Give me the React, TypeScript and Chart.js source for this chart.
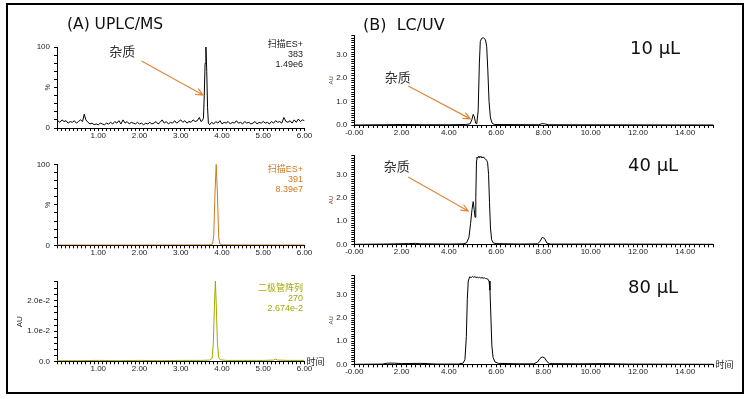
import React, { useEffect, useRef } from 'react';
import { Chart, registerables } from 'chart.js';

Chart.register(...registerables);

// ---------------- data ----------------
// (A) UPLC/MS, scan ES+ 383 (time min, intensity %)
const A1_MS383: [number, number][] = [
  [0.02, 9], [0.07, 7], [0.12, 10], [0.17, 8], [0.22, 9], [0.27, 6], [0.32, 8], [0.37, 7], [0.42, 9], [0.47, 6],
  [0.52, 8], [0.57, 10], [0.62, 8], [0.66, 17], [0.70, 10], [0.75, 7], [0.80, 5], [0.85, 6], [0.90, 4], [0.95, 5],
  [1.00, 4], [1.05, 6], [1.10, 5], [1.15, 4], [1.20, 6], [1.25, 5], [1.30, 7], [1.35, 5], [1.40, 8], [1.45, 6],
  [1.50, 9], [1.55, 5], [1.60, 10], [1.65, 6], [1.70, 8], [1.75, 5], [1.80, 7], [1.85, 6], [1.90, 5], [1.95, 7],
  [2.00, 5], [2.05, 6], [2.10, 4], [2.15, 6], [2.20, 5], [2.25, 7], [2.30, 5], [2.35, 6], [2.40, 8], [2.45, 5],
  [2.50, 7], [2.55, 10], [2.60, 6], [2.65, 8], [2.70, 5], [2.75, 7], [2.80, 6], [2.85, 9], [2.90, 6], [2.95, 8],
  [3.00, 10], [3.05, 7], [3.10, 9], [3.15, 6], [3.20, 8], [3.25, 7], [3.30, 10], [3.35, 8], [3.40, 9], [3.45, 13],
  [3.49, 8], [3.52, 9], [3.55, 12], [3.57, 40], [3.59, 80], [3.61, 100], [3.63, 70], [3.65, 25], [3.67, 6], [3.70, 4],
  [3.75, 7], [3.80, 5], [3.85, 8], [3.90, 6], [3.95, 9], [4.00, 5], [4.05, 7], [4.10, 6], [4.15, 8], [4.20, 5],
  [4.25, 7], [4.30, 6], [4.35, 9], [4.40, 6], [4.45, 7], [4.50, 5], [4.55, 8], [4.60, 6], [4.65, 7], [4.70, 5],
  [4.75, 6], [4.80, 8], [4.85, 5], [4.90, 7], [4.95, 6], [5.00, 8], [5.05, 6], [5.10, 7], [5.15, 5], [5.20, 8],
  [5.25, 6], [5.30, 9], [5.35, 7], [5.40, 8], [5.45, 6], [5.50, 13], [5.55, 8], [5.60, 7], [5.65, 9], [5.70, 6],
  [5.75, 10], [5.80, 7], [5.85, 11], [5.90, 8], [5.95, 10], [6.00, 9],
];
// scan ES+ 391 (%)
const A2_MS391: [number, number][] = [
  [0, 0.3], [1, 0.3], [2, 0.3], [3, 0.4], [3.5, 0.5], [3.7, 0.6], [3.77, 1.5], [3.8, 12], [3.83, 65],
  [3.86, 100], [3.89, 62], [3.92, 10], [3.95, 1.5], [4.0, 0.6], [4.5, 0.4], [5, 0.4], [6, 0.3],
];
// diode array 270 nm (AU)
const A3_PDA270: [number, number][] = [
  [0, 0.0002], [0.5, 0.0002], [1.0, 0.0003], [1.5, 0.0002], [2.0, 0.0003], [2.5, 0.0002], [3.0, 0.0003],
  [3.5, 0.0003], [3.7, 0.0004], [3.76, 0.001], [3.79, 0.006], [3.82, 0.02], [3.84, 0.0266], [3.86, 0.019],
  [3.89, 0.006], [3.92, 0.0012], [3.96, 0.0005], [4.1, 0.0003], [4.5, 0.0003], [5.0, 0.0003], [5.25, 0.0004],
  [5.3, 0.0007], [5.35, 0.0004], [5.6, 0.0003], [6.0, 0.0003],
];
// (B) LC/UV, 10 µL (AU)
const B1_10uL: [number, number][] = [
  [0, 0], [1.2, 0.01], [2.0, 0.02], [3.0, 0.01], [4.0, 0.01], [4.7, 0.02], [4.9, 0.05], [4.98, 0.25],
  [5.03, 0.45], [5.08, 0.35], [5.13, 0.08], [5.18, 0.05], [5.24, 0.6], [5.29, 2.6], [5.33, 3.55], [5.38, 3.68],
  [5.46, 3.72], [5.55, 3.62], [5.6, 3.35], [5.65, 2.3], [5.7, 1.0], [5.76, 0.3], [5.83, 0.08], [5.92, 0.02],
  [7.8, 0.01], [7.95, 0.06], [8.05, 0.05], [8.2, 0.01], [15.2, 0],
];
// 40 µL (AU)
const B2_40uL: [number, number][] = [
  [0, 0], [1.3, 0.01], [2.3, 0.03], [2.6, 0.04], [2.8, 0.02], [4.0, 0.01], [4.6, 0.02], [4.75, 0.06],
  [4.85, 0.3], [4.92, 0.9], [4.98, 1.5], [5.03, 1.83], [5.07, 1.5], [5.11, 1.16], [5.14, 2.0], [5.17, 3.6],
  [5.19, 3.74], [5.22, 3.7], [5.26, 3.77], [5.29, 3.71], [5.32, 3.78], [5.36, 3.72], [5.39, 3.76], [5.43, 3.7],
  [5.47, 3.75], [5.51, 3.68], [5.55, 3.66], [5.6, 3.6], [5.64, 3.5], [5.68, 3.0], [5.72, 1.8], [5.76, 0.7],
  [5.81, 0.2], [5.88, 0.06], [6.0, 0.03], [7.0, 0.01], [7.75, 0.02], [7.85, 0.12], [7.95, 0.3], [8.05, 0.25],
  [8.15, 0.05], [8.3, 0.01], [10.5, 0.01], [15.2, 0],
];
// 80 µL (AU)
const B3_80uL: [number, number][] = [
  [0, 0], [1.2, 0.01], [1.4, 0.05], [1.7, 0.05], [2.0, 0.03], [2.8, 0.04], [3.5, 0.01], [4.4, 0.01],
  [4.6, 0.05], [4.68, 0.2], [4.74, 1.2], [4.78, 2.8], [4.82, 3.6], [4.88, 3.78], [4.95, 3.75], [5.0, 3.8],
  [5.05, 3.76], [5.1, 3.79], [5.15, 3.75], [5.2, 3.77], [5.25, 3.74], [5.3, 3.76], [5.35, 3.73], [5.4, 3.75],
  [5.45, 3.72], [5.5, 3.74], [5.55, 3.71], [5.6, 3.7], [5.65, 3.68], [5.7, 3.6], [5.74, 3.2], [5.78, 2.0],
  [5.82, 0.8], [5.87, 0.3], [5.95, 0.1], [6.1, 0.04], [6.5, 0.03], [7.0, 0.02], [7.6, 0.02], [7.75, 0.1],
  [7.85, 0.25], [7.95, 0.32], [8.05, 0.28], [8.15, 0.12], [8.25, 0.03], [9.5, 0.02], [10.5, 0.03],
  [11.5, 0.01], [15.2, 0],
];

// tick labels
const LEFT_X_MAJOR = [1, 2, 3, 4, 5, 6];
const LEFT_X_LABELS = ['1.00', '2.00', '3.00', '4.00', '5.00', '6.00'];
const RIGHT_X_MAJOR = [0, 2, 4, 6, 8, 10, 12, 14];
const RIGHT_X_LABELS = ['-0.00', '2.00', '4.00', '6.00', '8.00', '10.00', '12.00', '14.00'];
const PCT_MAJOR = [0, 100];
const PCT_LABELS = ['0', '100'];
const PDA_MAJOR = [0, 0.01, 0.02];
const PDA_LABELS = ['0.0', '1.0e-2', '2.0e-2'];
const AU_MAJOR = [0, 1, 2, 3];
const AU_LABELS = ['0.0', '1.0', '2.0', '3.0'];

// trace info texts
const NOTE_A1 = ['扫描ES+', '383', '1.49e6'];
const NOTE_A2 = ['扫描ES+', '391', '8.39e7'];
const NOTE_A3 = ['二极管阵列', '270', '2.674e-2'];
const IMPURITY = '杂质';
const TIME_LABEL = '时间';

// ---------------- drawing helpers ----------------
type Ann =
  | { kind: 'text'; x: number; y: number; text: string; font: string; color: string }
  | { kind: 'arrow'; x1: number; y1: number; x2: number; y2: number; color: string }
  | { kind: 'ytitle'; y: number; dx: number; text: string; font: string; color: string }
  | { kind: 'xend'; dx: number; text: string; font: string; color: string };

type PanelCfg = {
  left: number; top: number; w: number; h: number;
  plot: { l: number; t: number; r: number; b: number };
  data: [number, number][];
  color: string;
  xMin: number; xMax: number; xStep: number; xMajor: number[]; xLabels: string[];
  yMin: number; yMax: number; yStep: number; yMajor: number[]; yLabels: string[];
  anns: Ann[];
};

const TICK_FONT = { family: '"Liberation Sans", Arial, sans-serif', size: 8 };
const CJK = '"Noto Sans CJK SC", "Noto Sans", sans-serif';
const ARROW = '#E0883A';

const labelFor = (majors: number[], labels: string[]) => (v: number | string) => {
  const n = Number(v);
  const i = majors.findIndex((m) => Math.abs(m - n) < 1e-7);
  return i >= 0 ? labels[i] : '';
};

function drawAnns(chart: any, anns: Ann[]) {
  const ctx: CanvasRenderingContext2D = chart.ctx;
  const xs = chart.scales.x;
  const ys = chart.scales.y;
  const ca = chart.chartArea;
  ctx.save();
  for (const a of anns) {
    if (a.kind === 'text') {
      ctx.font = a.font;
      ctx.fillStyle = a.color;
      ctx.textAlign = 'center';
      ctx.textBaseline = 'middle';
      ctx.fillText(a.text, xs.getPixelForValue(a.x), ys.getPixelForValue(a.y));
    } else if (a.kind === 'arrow') {
      const x1 = xs.getPixelForValue(a.x1), y1 = ys.getPixelForValue(a.y1);
      const x2 = xs.getPixelForValue(a.x2), y2 = ys.getPixelForValue(a.y2);
      ctx.strokeStyle = a.color;
      ctx.lineWidth = 1.2;
      ctx.beginPath();
      ctx.moveTo(x1, y1);
      ctx.lineTo(x2, y2);
      const ang = Math.atan2(y2 - y1, x2 - x1);
      const L = 8, spread = 0.42;
      ctx.moveTo(x2 - L * Math.cos(ang - spread), y2 - L * Math.sin(ang - spread));
      ctx.lineTo(x2, y2);
      ctx.lineTo(x2 - L * Math.cos(ang + spread), y2 - L * Math.sin(ang + spread));
      ctx.stroke();
    } else if (a.kind === 'ytitle') {
      ctx.font = a.font;
      ctx.fillStyle = a.color;
      ctx.textAlign = 'center';
      ctx.textBaseline = 'middle';
      ctx.translate(ca.left - a.dx, ys.getPixelForValue(a.y));
      ctx.rotate(-Math.PI / 2);
      ctx.fillText(a.text, 0, 0);
      ctx.setTransform(1, 0, 0, 1, 0, 0);
    } else if (a.kind === 'xend') {
      ctx.font = a.font;
      ctx.fillStyle = a.color;
      ctx.textAlign = 'left';
      ctx.textBaseline = 'middle';
      ctx.fillText(a.text, ca.right + a.dx, ca.bottom);
    }
  }
  ctx.restore();
}

function Panel({ p }: { p: PanelCfg }) {
  const ref = useRef<HTMLCanvasElement>(null);
  useEffect(() => {
    const canvas = ref.current!;
    const plugin = {
      id: 'annot',
      afterDatasetsDraw(chart: any) {
        drawAnns(chart, p.anns);
      },
    };
    const chart = new Chart(canvas, {
      type: 'line',
      data: {
        datasets: [
          {
            data: p.data.map(([x, y]) => ({ x, y })),
            borderColor: p.color,
            borderWidth: 1,
            pointRadius: 0,
            tension: 0,
            fill: false,
          },
        ],
      },
      options: {
        responsive: false,
        animation: false,
        events: [],
        layout: {
          padding: { left: 0, top: p.plot.t - p.top, right: p.left + p.w - p.plot.r, bottom: 0 },
        },
        plugins: { legend: { display: false }, tooltip: { enabled: false } },
        scales: {
          x: {
            type: 'linear',
            min: p.xMin,
            max: p.xMax,
            afterFit: (s: any) => { s.height = p.top + p.h - p.plot.b; },
            ticks: {
              stepSize: p.xStep,
              autoSkip: false,
              maxRotation: 0,
              minRotation: 0,
              includeBounds: false,
              padding: 0,
              font: TICK_FONT,
              color: '#1a1a24',
              callback: labelFor(p.xMajor, p.xLabels),
            },
            grid: { drawOnChartArea: false, drawTicks: true, tickLength: 3, tickColor: '#000', color: '#000' },
            border: { display: true, color: '#000', width: 1 },
          },
          y: {
            type: 'linear',
            min: p.yMin,
            max: p.yMax,
            afterFit: (s: any) => { s.width = p.plot.l - p.left; },
            ticks: {
              stepSize: p.yStep,
              autoSkip: false,
              padding: 4,
              font: TICK_FONT,
              color: '#1a1a24',
              callback: labelFor(p.yMajor, p.yLabels),
            },
            grid: { drawOnChartArea: false, drawTicks: true, tickLength: 3, tickColor: '#000', color: '#000' },
            border: { display: true, color: '#000', width: 1 },
          },
        },
      },
      plugins: [plugin],
    } as any);
    return () => chart.destroy();
  }, [p]);
  return (
    <canvas
      ref={ref}
      width={p.w}
      height={p.h}
      style={{ position: 'absolute', left: p.left, top: p.top, width: p.w, height: p.h }}
    />
  );
}

// ---------------- layout ----------------
const AL = 10, AW = 318, BL = 328, BW = 414;
const ROWS = [
  { top: 6, h: 136 },
  { top: 142, h: 120 },
  { top: 262, h: 123 },
];
const LEFT_R = 304.5;
const RIGHT_L = 354.3, RIGHT_R = 713.6;

const impText = (x: number, y: number): Ann => ({ kind: 'text', x, y, text: IMPURITY, font: `13px ${CJK}`, color: '#333' });
const arrow = (x1: number, y1: number, x2: number, y2: number): Ann => ({ kind: 'arrow', x1, y1, x2, y2, color: ARROW });
const auTitle: Ann = { kind: 'ytitle', y: 1.9, dx: 22.6, text: 'AU', font: `6px ${TICK_FONT.family}`, color: '#5a2a1a' };
const timeEnd: Ann = { kind: 'xend', dx: 2, text: TIME_LABEL, font: `9px ${CJK}`, color: '#222' };

const leftBase = { left: AL, w: AW, xMin: 0, xMax: 6, xStep: 0.1, xMajor: LEFT_X_MAJOR, xLabels: LEFT_X_LABELS };
const rightBase = {
  left: BL, w: BW, xMin: 0, xMax: 15.2, xStep: 0.2, xMajor: RIGHT_X_MAJOR, xLabels: RIGHT_X_LABELS,
  yMin: 0, yMax: 3.83, yStep: 0.1, yMajor: AU_MAJOR, yLabels: AU_LABELS, color: '#000',
};

const PANELS: PanelCfg[] = [
  {
    ...leftBase, top: ROWS[0].top, h: ROWS[0].h, plot: { l: 57, t: 47, r: LEFT_R, b: 128 },
    data: A1_MS383, color: '#000', yMin: 0, yMax: 100, yStep: 10, yMajor: PCT_MAJOR, yLabels: PCT_LABELS,
    anns: [
      impText(1.58, 95.3),
      arrow(2.05, 82.7, 3.54, 40.7),
      { kind: 'ytitle', y: 50, dx: 9, text: '%', font: `7px ${TICK_FONT.family}`, color: '#3a1a3a' },
    ],
  },
  {
    ...leftBase, top: ROWS[1].top, h: ROWS[1].h, plot: { l: 57, t: 164.3, r: LEFT_R, b: 245.3 },
    data: A2_MS391, color: '#CC7A22', yMin: 0, yMax: 100, yStep: 10, yMajor: PCT_MAJOR, yLabels: PCT_LABELS,
    anns: [{ kind: 'ytitle', y: 50, dx: 9, text: '%', font: `7px ${TICK_FONT.family}`, color: '#3a1a3a' }],
  },
  {
    ...leftBase, top: ROWS[2].top, h: ROWS[2].h, plot: { l: 57, t: 281, r: LEFT_R, b: 361.3 },
    data: A3_PDA270, color: '#A2AA00', yMin: 0, yMax: 0.0266, yStep: 0.002, yMajor: PDA_MAJOR, yLabels: PDA_LABELS,
    anns: [
      { kind: 'ytitle', y: 0.0131, dx: 37, text: 'AU', font: `8px ${TICK_FONT.family}`, color: '#222' },
      timeEnd,
    ],
  },
  {
    ...rightBase, top: ROWS[0].top, h: ROWS[0].h, plot: { l: RIGHT_L, t: 35, r: RIGHT_R, b: 125 },
    data: B1_10uL,
    anns: [impText(1.84, 2.05), arrow(2.28, 1.66, 4.91, 0.26), auTitle],
  },
  {
    ...rightBase, top: ROWS[1].top, h: ROWS[1].h, plot: { l: RIGHT_L, t: 155, r: RIGHT_R, b: 244.3 },
    data: B2_40uL,
    anns: [impText(1.8, 3.36), arrow(2.28, 2.89, 4.82, 1.43), auTitle],
  },
  {
    ...rightBase, top: ROWS[2].top, h: ROWS[2].h, plot: { l: RIGHT_L, t: 275.7, r: RIGHT_R, b: 364.3 },
    data: B3_80uL,
    anns: [auTitle, timeEnd],
  },
];

const TITLE_FONT = '"DejaVu Sans", Verdana, sans-serif';

function Note({ lines, top, color }: { lines: string[]; top: number; color: string }) {
  return (
    <div
      style={{
        position: 'absolute', right: 751 - 303, top, textAlign: 'right', color,
        font: `9px/10px "Liberation Sans", ${CJK}`, whiteSpace: 'pre',
      }}
    >
      {lines.map((l, i) => (
        <div key={i}>{l}</div>
      ))}
    </div>
  );
}

export default function App() {
  const txt = (s: string, left: number, top: number, size: number) => (
    <div
      style={{
        position: 'absolute', left, top, fontFamily: TITLE_FONT, fontSize: size,
        lineHeight: `${size}px`, whiteSpace: 'pre', color: '#111',
      }}
    >
      {s}
    </div>
  );
  return (
    <div style={{ position: 'absolute', left: 0, top: 0, width: 751, height: 399, background: '#fff', overflow: 'hidden' }}>
      <div
        style={{
          position: 'absolute', left: 6, top: 3, width: 738, height: 391,
          border: '2px solid #000', boxSizing: 'border-box',
        }}
      />
      {PANELS.map((p, i) => (
        <Panel key={i} p={p} />
      ))}
      {txt('(A) UPLC/MS', 67, 16.9, 15.5)}
      {txt('(B)  LC/UV', 363, 16.5, 16)}
      {txt('10 µL', 630, 39, 18)}
      {txt('40 µL', 628, 155.5, 18)}
      {txt('80 µL', 628, 277.5, 18)}
      <Note lines={NOTE_A1} top={39} color="#1a1a1a" />
      <Note lines={NOTE_A2} top={164.3} color="#D2791F" />
      <Note lines={NOTE_A3} top={282.7} color="#A3A800" />
    </div>
  );
}
